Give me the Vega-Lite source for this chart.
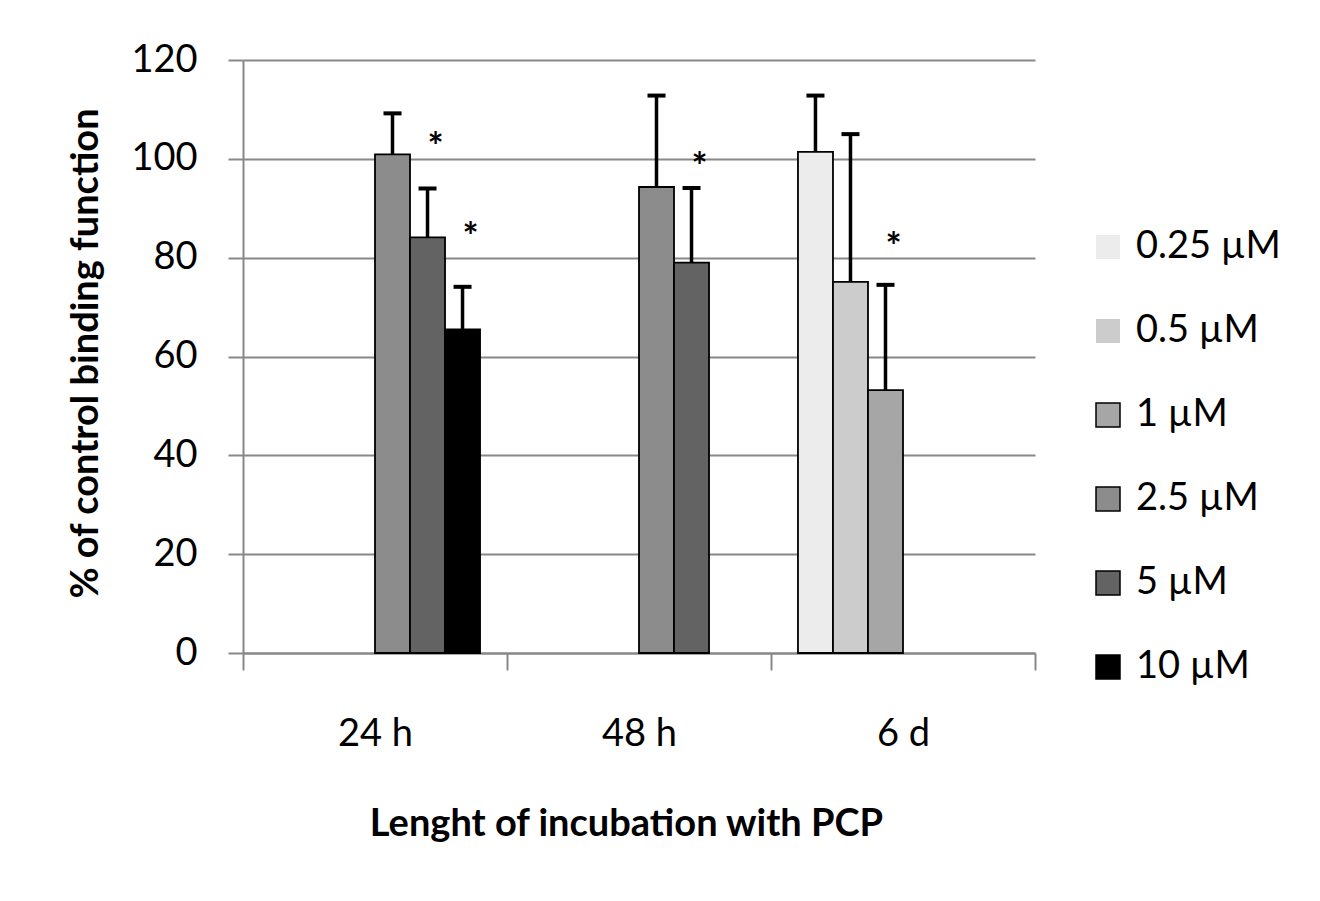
{
  "$schema": "https://vega.github.io/schema/vega-lite/v6.json",
  "width": 792,
  "height": 593,
  "autosize": "none",
  "padding": {"left": 243, "top": 60, "right": 285, "bottom": 248},
  "background": "white",
  "config": {
    "font": "Lato",
    "view": {"stroke": null},
    "axis": {
      "domainColor": "#888888",
      "domainWidth": 2,
      "tickColor": "#888888",
      "tickWidth": 2,
      "gridColor": "#888888",
      "gridWidth": 2,
      "labelColor": "black",
      "labelFontSize": 38,
      "labelFont": "Lato",
      "titleFont": "Lato",
      "titleFontSize": 38,
      "titleFontWeight": "bold",
      "titleColor": "black"
    }
  },
  "data": {
    "values": [
      {"period": "24 h", "series": "2.5 µM", "value": 100.9, "upper": 109.2, "star": null},
      {"period": "24 h", "series": "5 µM", "value": 84.1, "upper": 94.0, "star": 104.3},
      {"period": "24 h", "series": "10 µM", "value": 65.5, "upper": 74.1, "star": 86.0},
      {"period": "48 h", "series": "2.5 µM", "value": 94.3, "upper": 112.8, "star": null},
      {"period": "48 h", "series": "5 µM", "value": 79.0, "upper": 94.1, "star": 100.2},
      {"period": "6 d", "series": "0.25 µM", "value": 101.4, "upper": 112.8, "star": null},
      {"period": "6 d", "series": "0.5 µM", "value": 75.1, "upper": 105.0, "star": null},
      {"period": "6 d", "series": "1 µM", "value": 53.2, "upper": 74.5, "star": 83.9}
    ]
  },
  "encoding": {
    "x": {
      "field": "period",
      "type": "nominal",
      "sort": ["24 h", "48 h", "6 d"],
      "scale": {"paddingInner": 0, "paddingOuter": 0},
      "axis": {
        "labelAngle": 0,
        "tickBand": "extent",
        "tickSize": 17,
        "labelBaseline": "alphabetic",
        "labelPadding": 75,
        "title": "Lenght of incubation with PCP",
        "titleX": 383,
        "titleY": 182,
        "titleAlign": "center",
        "titleBaseline": "alphabetic",
        "grid": false
      }
    },
    "xOffset": {
      "field": "series",
      "type": "nominal",
      "scale": {
        "domain": ["0.25 µM", "0.5 µM", "1 µM", "2.5 µM", "5 µM", "10 µM"],
        "paddingInner": 0,
        "paddingOuter": 0.77
      }
    }
  },
  "layer": [
    {
      "mark": {"type": "bar", "stroke": "black", "strokeWidth": 1.8},
      "encoding": {
        "y": {
          "field": "value",
          "type": "quantitative",
          "scale": {"domain": [0, 120], "nice": false},
          "axis": {
            "values": [0, 20, 40, 60, 80, 100, 120],
            "tickSize": 15,
            "labelPadding": 31,
            "grid": true,
            "title": "% of control binding function",
            "titleAngle": -90,
            "titleX": -146,
            "titleY": 293,
            "titleAlign": "center",
            "titleBaseline": "alphabetic"
          }
        },
        "fill": {
          "field": "series",
          "type": "nominal",
          "scale": {
            "domain": ["0.25 µM", "0.5 µM", "1 µM", "2.5 µM", "5 µM", "10 µM"],
            "range": ["#ececec", "#cccccc", "#a6a6a6", "#8c8c8c", "#636363", "#000000"]
          },
          "legend": {
            "orient": "none",
            "legendX": 846,
            "legendY": 168,
            "title": null,
            "symbolType": "square",
            "symbolSize": 576,
            "symbolStrokeColor": "black",
            "symbolStrokeWidth": 1.5,
            "labelFontSize": 38,
            "labelFont": "Lato",
            "labelColor": "black",
            "labelOffset": 9,
            "rowPadding": 46,
            "labelLimit": 300,
            "encode": {
              "symbols": {
                "update": {
                  "stroke": {"signal": "indexof(['0.25 µM','0.5 µM'], datum.value) >= 0 ? 'transparent' : 'black'"}
                }
              }
            }
          }
        }
      }
    },
    {
      "mark": {"type": "rule", "stroke": "black", "strokeWidth": 3.5},
      "encoding": {
        "y": {"field": "value", "type": "quantitative"},
        "y2": {"field": "upper"}
      }
    },
    {
      "mark": {"type": "tick", "color": "black", "thickness": 4, "size": 18, "opacity": 1},
      "encoding": {
        "y": {"field": "upper", "type": "quantitative"}
      }
    },
    {
      "transform": [{"filter": "datum.star != null"}],
      "mark": {"type": "text", "text": "*", "font": "Lato", "fontSize": 38, "fontWeight": "bold", "color": "black", "dx": 8, "dy": 11, "baseline": "middle"},
      "encoding": {
        "y": {"field": "star", "type": "quantitative"}
      }
    }
  ]
}
